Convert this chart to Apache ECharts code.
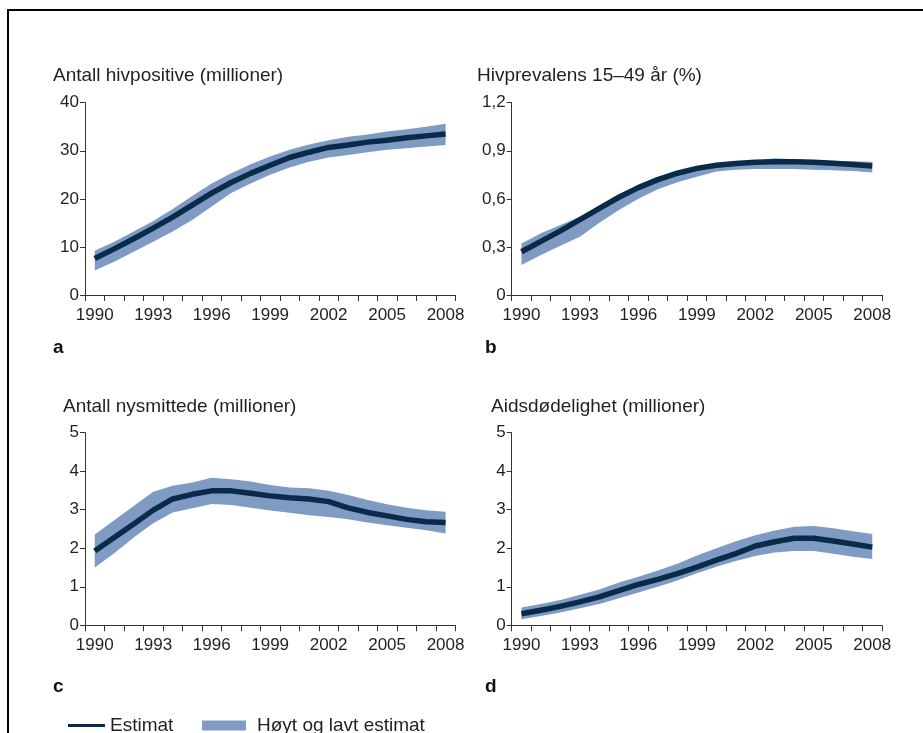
<!DOCTYPE html>
<html>
<head>
<meta charset="utf-8">
<script src="https://cdn.jsdelivr.net/npm/echarts@6/dist/echarts.min.js"></script>
<style>
html,body{margin:0;padding:0;background:#fff;}
#chart{width:923px;height:733px;}
</style>
</head>
<body>
<div id="chart"></div>
<script>
// ---- Data ----
var years = ['1990','1991','1992','1993','1994','1995','1996','1997','1998','1999',
             '2000','2001','2002','2003','2004','2005','2006','2007','2008'];

// a: Antall hivpositive (millioner)
var aEstimate = [7.6, 9.6, 11.7, 13.9, 16.2, 18.7, 21.2, 23.4, 25.3, 27.0, 28.6, 29.7, 30.7, 31.2, 31.8, 32.2, 32.7, 33.1, 33.5];
var aHigh     = [9.2, 11.1, 13.2, 15.4, 17.9, 20.6, 23.2, 25.3, 27.2, 28.8, 30.2, 31.3, 32.2, 32.9, 33.4, 34.0, 34.5, 35.0, 35.6];
var aLow      = [5.1, 6.9, 9.0, 11.1, 13.2, 15.6, 18.4, 21.2, 23.2, 25.0, 26.5, 27.7, 28.6, 29.1, 29.7, 30.2, 30.5, 30.9, 31.2];

// b: Hivprevalens 15–49 år (%)
var bEstimate = [0.27, 0.335, 0.40, 0.47, 0.54, 0.61, 0.67, 0.72, 0.76, 0.79, 0.81, 0.82, 0.828, 0.832, 0.832, 0.828, 0.822, 0.815, 0.805];
var bHigh     = [0.322, 0.385, 0.437, 0.489, 0.551, 0.628, 0.686, 0.738, 0.774, 0.801, 0.822, 0.832, 0.840, 0.853, 0.847, 0.840, 0.836, 0.834, 0.832];
var bLow      = [0.187, 0.25, 0.308, 0.364, 0.451, 0.53, 0.60, 0.66, 0.703, 0.738, 0.77, 0.782, 0.786, 0.786, 0.786, 0.782, 0.778, 0.774, 0.765];

// c: Antall nysmittede (millioner)
var cEstimate = [1.93, 2.28, 2.63, 2.99, 3.28, 3.40, 3.49, 3.49, 3.43, 3.36, 3.31, 3.28, 3.21, 3.05, 2.93, 2.84, 2.75, 2.69, 2.67];
var cHigh     = [2.36, 2.73, 3.10, 3.47, 3.62, 3.71, 3.83, 3.79, 3.73, 3.64, 3.58, 3.56, 3.49, 3.38, 3.25, 3.14, 3.05, 2.99, 2.95];
var cLow      = [1.50, 1.87, 2.28, 2.65, 2.93, 3.04, 3.15, 3.12, 3.05, 2.98, 2.92, 2.86, 2.81, 2.75, 2.67, 2.60, 2.53, 2.47, 2.38];

// d: Aidsdødelighet (millioner)
var dEstimate = [0.30, 0.39, 0.49, 0.61, 0.74, 0.90, 1.06, 1.19, 1.34, 1.51, 1.69, 1.86, 2.06, 2.17, 2.26, 2.26, 2.19, 2.11, 2.03];
var dHigh     = [0.46, 0.55, 0.66, 0.79, 0.93, 1.11, 1.26, 1.42, 1.60, 1.81, 2.00, 2.18, 2.34, 2.46, 2.56, 2.58, 2.52, 2.44, 2.37];
var dLow      = [0.16, 0.24, 0.33, 0.44, 0.55, 0.70, 0.85, 1.00, 1.16, 1.35, 1.52, 1.67, 1.80, 1.89, 1.93, 1.93, 1.86, 1.78, 1.72];

var panelTitles = ['Antall hivpositive (millioner)', 'Hivprevalens 15\u201349 \u00e5r (%)', 'Antall nysmittede (millioner)', 'Aidsd\u00f8delighet (millioner)'];
var panelLetters = ['a', 'b', 'c', 'd'];
var yMax = [40, 1.2, 5, 5];
var yInterval = [10, 0.3, 1, 1];
var estimates = [aEstimate, bEstimate, cEstimate, dEstimate];
var highs = [aHigh, bHigh, cHigh, dHigh];
var lows = [aLow, bLow, cLow, dLow];

// ---- Styling / layout ----
var FONT = '"Liberation Sans", Arial, sans-serif';
var TEXT = '#231f20';
var AXIS = '#333333';
var LINE_COLOR = '#0a2a4a';
var BAND_COLOR = '#7f9bc3';

var grids = [
  {left: 85,    top: 102.7, width: 370.3, height: 192.3},
  {left: 511.7, top: 102.7, width: 370.3, height: 192.3},
  {left: 85,    top: 432.7, width: 370.3, height: 192.6},
  {left: 511.7, top: 432.7, width: 370.3, height: 192.6}
];
var titlePos = [[53, 66.5], [477, 66.5], [63, 397.5], [491, 397.5]];
var letterPos = [[53, 338.5], [485, 338.5], [53, 677.5], [485, 677.5]];

var xAxes = [], yAxes = [], series = [], titles = [];
for (var i = 0; i < 4; i++) {
  xAxes.push({
    type: 'category', gridIndex: i, data: years, boundaryGap: true,
    axisLine: {show: true, lineStyle: {color: AXIS, width: 1}},
    axisTick: {show: true, interval: 0, length: 6, lineStyle: {color: AXIS}},
    axisLabel: {interval: 2, fontSize: 17, margin: 12, color: TEXT, fontFamily: FONT},
    splitLine: {show: false}
  });
  (function (idx) {
    yAxes.push({
      type: 'value', gridIndex: idx, min: 0, max: yMax[idx], interval: yInterval[idx],
      axisLine: {show: true, lineStyle: {color: AXIS, width: 1}},
      axisTick: {show: true, length: 5, lineStyle: {color: AXIS}},
      axisLabel: {
        fontSize: 17, margin: 6, color: TEXT, fontFamily: FONT,
        formatter: function (v) {
          if (idx === 1) { return v === 0 ? '0' : v.toFixed(1).replace('.', ','); }
          return String(Math.round(v));
        }
      },
      splitLine: {show: false}
    });
  })(i);

  var lo = lows[i], hi = highs[i];
  var range = hi.map(function (h, k) { return +(h - lo[k]).toFixed(4); });
  series.push({
    name: 'lower' + i, type: 'line', xAxisIndex: i, yAxisIndex: i, stack: 'band' + i,
    data: lo, symbol: 'none', lineStyle: {opacity: 0, width: 0}, silent: true, z: 1
  });
  series.push({
    name: 'H\u00f8yt og lavt estimat', type: 'line', xAxisIndex: i, yAxisIndex: i, stack: 'band' + i,
    data: range, symbol: 'none', lineStyle: {opacity: 0, width: 0},
    itemStyle: {color: BAND_COLOR},
    areaStyle: {color: BAND_COLOR, opacity: 1}, z: 2
  });
  series.push({
    name: 'Estimat', type: 'line', xAxisIndex: i, yAxisIndex: i,
    data: estimates[i], symbol: 'none',
    itemStyle: {color: LINE_COLOR},
    lineStyle: {color: LINE_COLOR, width: 5.5, join: 'round', cap: 'butt'}, z: 3
  });

  titles.push({
    text: panelTitles[i], left: titlePos[i][0], top: titlePos[i][1], padding: 0,
    textStyle: {fontSize: 19, fontWeight: 'normal', color: TEXT, fontFamily: FONT}
  });
  titles.push({
    text: panelLetters[i], left: letterPos[i][0], top: letterPos[i][1], padding: 0,
    textStyle: {fontSize: 19, fontWeight: 'bold', color: '#111', fontFamily: FONT}
  });
}

var chart = echarts.init(document.getElementById('chart'), null, {renderer: 'canvas'});
chart.setOption({
  animation: false,
  backgroundColor: '#ffffff',
  title: titles,
  grid: grids,
  xAxis: xAxes,
  yAxis: yAxes,
  series: series,
  legend: [
    {
      left: 68, top: 716, padding: 0, itemWidth: 37, itemHeight: 3, itemGap: 0,
      data: [{name: 'Estimat', icon: 'rect'}],
      itemStyle: {color: LINE_COLOR},
      textStyle: {fontSize: 19, color: TEXT, fontFamily: FONT},
      selectedMode: false
    },
    {
      left: 202, top: 716, padding: 0, itemWidth: 44, itemHeight: 10, itemGap: 0,
      data: [{name: 'H\u00f8yt og lavt estimat', icon: 'rect'}],
      textStyle: {fontSize: 19, color: TEXT, fontFamily: FONT, padding: [0, 0, 0, 6]},
      selectedMode: false
    }
  ],
  graphic: [{
    type: 'rect', silent: true,
    shape: {x: 8, y: 10, width: 1200, height: 1200},
    style: {fill: 'none', stroke: '#000', lineWidth: 2}
  }]
});
</script>
</body>
</html>
